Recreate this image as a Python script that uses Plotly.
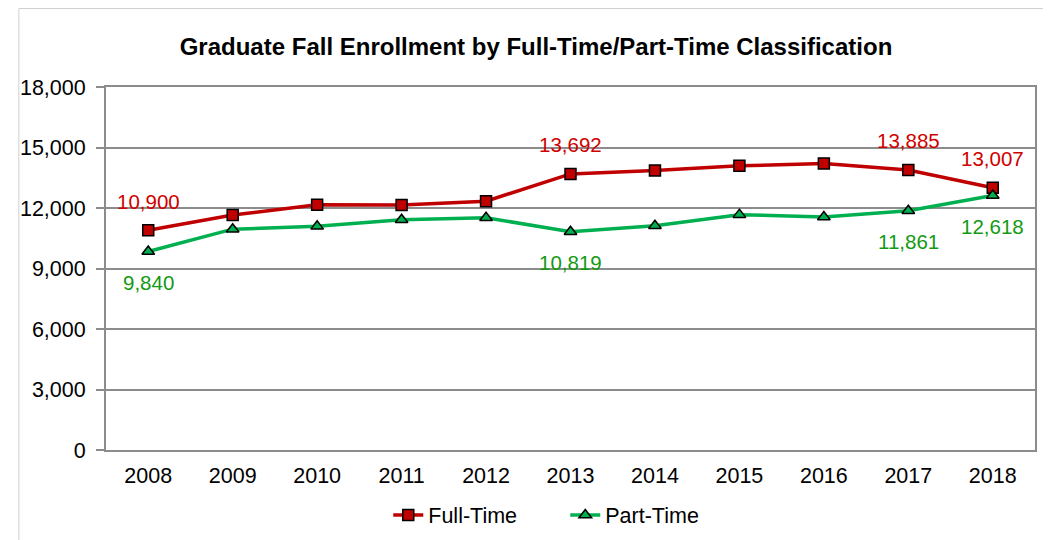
import plotly.graph_objects as go

years = ["2008", "2009", "2010", "2011", "2012", "2013", "2014", "2015", "2016", "2017", "2018"]
full_time = [10900, 11650, 12160, 12150, 12340, 13692, 13860, 14090, 14210, 13885, 13007]
part_time = [9840, 10950, 11090, 11420, 11520, 10819, 11120, 11670, 11550, 11861, 12618]
y_ticks = [0, 3000, 6000, 9000, 12000, 15000, 18000]
labeled_years = ["2008", "2013", "2017", "2018"]

FONT = "Arial, 'Liberation Sans', sans-serif"
RED_LINE = "#C00000"
GREEN_LINE = "#00B050"
RED_TEXT = "#D00000"
GREEN_TEXT = "#139A13"
GRID = "#8C8C8C"

W, H = 1051, 540
L, R, T, B = 89, 24, 79, 98
PW, PH = W - L - R, H - T - B

fig = go.Figure()
fig.add_trace(go.Scatter(
    x=years, y=full_time, name="Full-Time", mode="lines+markers",
    line=dict(color=RED_LINE, width=3.5),
    marker=dict(symbol="square", size=11, color=RED_LINE, line=dict(color="black", width=1.5)),
))
fig.add_trace(go.Scatter(
    x=years, y=part_time, name="Part-Time", mode="lines+markers",
    line=dict(color=GREEN_LINE, width=3.5),
    marker=dict(symbol="triangle-up", size=11, color=GREEN_LINE, line=dict(color="black", width=1.5)),
))

annotations = []
for i, (yr, v) in enumerate(zip(years, full_time)):
    if yr in labeled_years:
        annotations.append(dict(x=i, y=v, xref="x", yref="y", text=f"{v:,}", showarrow=False,
                                yshift=29, font=dict(family=FONT, size=20.5, color=RED_TEXT)))
for i, (yr, v) in enumerate(zip(years, part_time)):
    if yr in labeled_years:
        annotations.append(dict(x=i, y=v, xref="x", yref="y", text=f"{v:,}", showarrow=False,
                                yshift=-31, font=dict(family=FONT, size=20.5, color=GREEN_TEXT)))

fig.update_layout(
    width=W, height=H,
    margin=dict(l=L, r=R, t=T, b=B),
    paper_bgcolor="white", plot_bgcolor="white",
    font=dict(family=FONT, size=21.5, color="black"),
    title=dict(text="<b>Graduate Fall Enrollment by Full-Time/Part-Time Classification</b>",
               x=(536 - 8) / W, xanchor="center", y=1 - 39 / H, yanchor="middle",
               font=dict(family=FONT, size=24, color="black")),
    xaxis=dict(type="category", categoryorder="array", categoryarray=years,
               range=[-0.5, 10.5], showgrid=False, showline=True, linecolor=GRID, linewidth=2,
               mirror=True, ticks="", tickfont=dict(size=21.5), ticklabelstandoff=5),
    yaxis=dict(range=[0, 18000], tickvals=y_ticks, tickformat=",d", showgrid=True,
               gridcolor=GRID, gridwidth=1.5, showline=True, linecolor=GRID, linewidth=2,
               mirror=True, ticks="outside", ticklen=8, tickcolor=GRID, tickwidth=1.5,
               tickfont=dict(size=21.5), zeroline=False, ticklabelstandoff=6),
    legend=dict(orientation="h", x=(374 - L) / PW, xanchor="left",
                y=(T + PH - 507) / PH, yanchor="middle",
                font=dict(size=21.5), entrywidth=132, entrywidthmode="pixels",
                traceorder="normal"),
    annotations=annotations,
    shapes=[
        dict(type="line", xref="paper", yref="paper", x0=(1 - L) / PW, x1=(W - L) / PW,
             y0=(T + PH - 0.5) / PH, y1=(T + PH - 0.5) / PH, line=dict(color="#D0D0D0", width=1)),
        dict(type="line", xref="paper", yref="paper", x0=(1 - L) / PW, x1=(1 - L) / PW,
             y0=(T + PH - 0.5) / PH, y1=-(B + 5) / PH, line=dict(color="#D0D0D0", width=1)),
    ],
)

fig.write_html("out.html")
